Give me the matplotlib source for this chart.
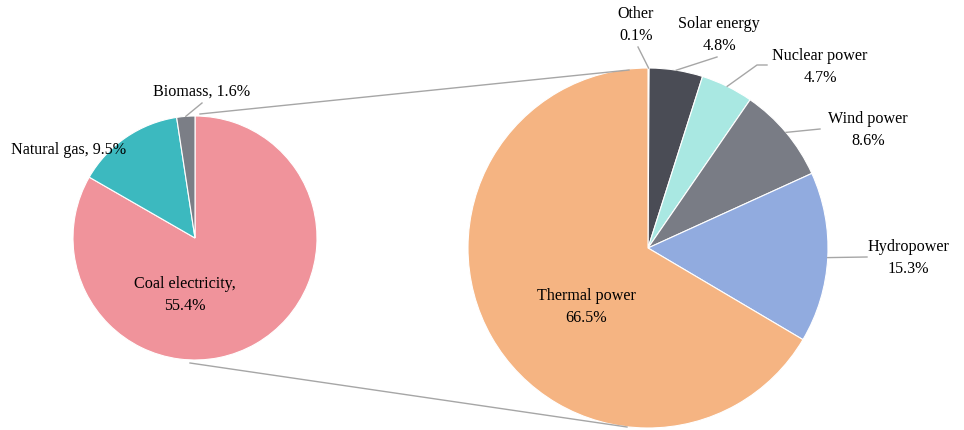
import numpy as np
import matplotlib.pyplot as plt

# left pie: breakdown of thermal power
thermal_names = ["Coal electricity", "Natural gas", "Biomass"]
thermal_share = [55.4, 9.5, 1.6]
thermal_colors = ["#F0939B", "#3CB9BF", "#7B7E86"]

# right pie: whole power mix
mix_names = ["Other", "Solar energy", "Nuclear power", "Wind power", "Hydropower", "Thermal power"]
mix_share = [0.1, 4.8, 4.7, 8.6, 15.3, 66.5]
mix_colors = ["#3CB9BF", "#4A4C55", "#A9E8E2", "#797C85", "#91ABDF", "#F5B482"]

H = 430
plt.rcParams["font.family"] = ["Liberation Serif", "DejaVu Serif"]

fig = plt.figure(figsize=(9.64, 4.30), dpi=100)
ax = fig.add_axes([0, 0, 1, 1])

lc, lr = (195, H - 238), 122
rc, rr = (648, H - 248), 180

wp = dict(edgecolor="white", linewidth=0.8)
ax.pie(thermal_share, colors=thermal_colors, startangle=90, counterclock=False,
       center=lc, radius=lr, wedgeprops=wp, frame=True)
ax.pie(mix_share, colors=mix_colors, startangle=90, counterclock=False,
       center=rc, radius=rr, wedgeprops=wp, frame=True)
ax.set_xlim(0, 964)
ax.set_ylim(0, H)
ax.set_aspect("equal")
ax.axis("off")


def edge_point(center, r, shares, i):
    cum = np.cumsum([0] + list(shares)) / sum(shares)
    mid = (cum[i] + cum[i + 1]) / 2
    ang = np.deg2rad(90 - 360 * mid)
    return center[0] + r * np.cos(ang), center[1] + r * np.sin(ang)


gray = "#A6A6A6"
fs = 11.6
ls = 1.5

# connector lines between the pies
ax.plot([200, 629], [H - 114, H - 70], color=gray, lw=1)
ax.plot([190, 627], [H - 363, H - 427], color=gray, lw=1)

# left pie labels
x0, y0 = edge_point(lc, lr, thermal_share, 2)
ax.plot([x0, 202], [y0, H - 103], color=gray, lw=1)
ax.text(202, H - 92, "%s, %.1f%%" % (thermal_names[2], thermal_share[2]),
        ha="center", va="center", fontsize=fs)
ax.text(69, H - 150, "%s, %.1f%%" % (thermal_names[1], thermal_share[1]),
        ha="center", va="center", fontsize=fs)
ax.text(185, H - 295, "%s,\n%.1f%%" % (thermal_names[0], thermal_share[0]),
        ha="center", va="center", fontsize=fs, linespacing=ls)

# right pie labels
label_pos = [(636, 25), (719, 35), (820, 67), (868, 130), (908, 258), (586, 307)]
leader_end = [[(638, 47)], [(717, 57)], [(757, 65), (767, 65)], [(820, 129)],
              [(867, 257)], None]
for i, name in enumerate(mix_names):
    tx, ty = label_pos[i]
    ax.text(tx, H - ty, "%s\n%.1f%%" % (name, mix_share[i]),
            ha="center", va="center", fontsize=fs, linespacing=ls)
    if leader_end[i]:
        x0, y0 = edge_point(rc, rr, mix_share, i)
        xs = [x0] + [p[0] for p in leader_end[i]]
        ys = [y0] + [H - p[1] for p in leader_end[i]]
        ax.plot(xs, ys, color=gray, lw=1)

fig.savefig("out.png", dpi=100)
